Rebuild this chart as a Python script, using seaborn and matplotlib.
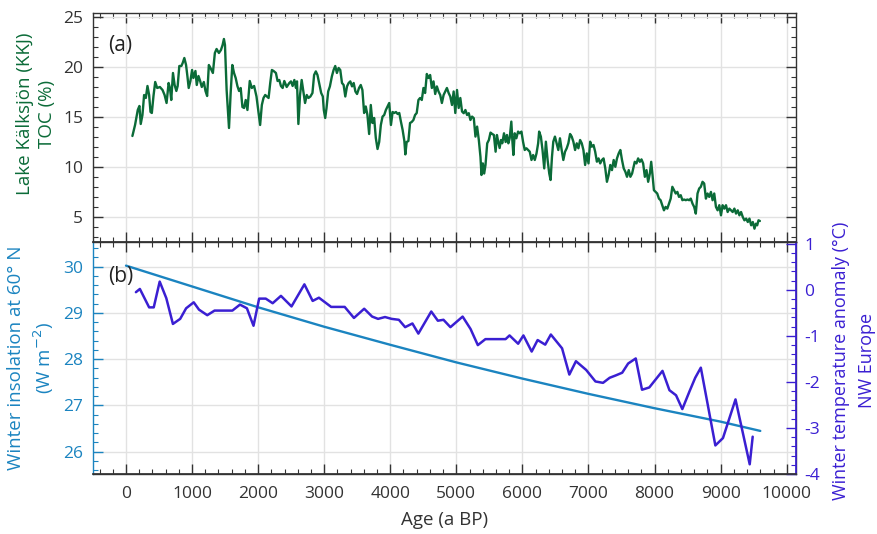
import numpy as np
import pandas as pd
import matplotlib
matplotlib.use("Agg")
import matplotlib.pyplot as plt
import seaborn as sns
from matplotlib.ticker import MultipleLocator

# ---------------- data ----------------
toc_age = [97, 137, 178, 203, 223, 249, 274, 300, 325, 350, 371, 391, 416, 442, 472, 513, 553, 584, 614, 645,
           665, 685, 711, 736, 762, 782, 807, 838, 858, 883, 909, 929, 949, 975, 1000, 1020, 1051, 1071, 1097, 1122,
           1147, 1178, 1203, 1228, 1254, 1279, 1315, 1345, 1371, 1406, 1437, 1462, 1482, 1498, 1523, 1559, 1584, 1609,
           1635, 1660, 1686, 1711, 1736, 1762, 1787, 1812, 1838, 1873, 1904, 1939, 1975, 2005, 2030, 2056, 2081, 2107,
           2132, 2158, 2183, 2208, 2234, 2269, 2294, 2320, 2345, 2371, 2396, 2432, 2472,
           2497, 2522, 2548, 2573, 2588, 2609, 2634, 2659, 2685, 2710, 2736, 2761, 2791, 2822, 2847, 2873, 2898, 2923,
           2954, 2979, 2994, 3015, 3035, 3060, 3086, 3116, 3142, 3167, 3192, 3218, 3243, 3269, 3294, 3319, 3345, 3370,
           3395, 3421, 3446, 3472, 3497, 3527, 3553, 3578, 3604, 3629, 3654, 3680, 3705, 3730, 3756, 3781, 3807, 3832,
           3857, 3883, 3908, 3933, 3959, 3984, 4010, 4035, 4060, 4086, 4111, 4136, 4162, 4187, 4213, 4228, 4248, 4274,
           4299, 4324, 4350, 4375, 4400, 4426, 4451, 4477, 4502, 4527, 4553, 4578, 4603, 4629, 4654, 4680, 4705, 4730,
           4756, 4781, 4807, 4832, 4857, 4883, 4908, 4934, 4959, 4984, 5010, 5035, 5060,
           5086, 5111, 5137, 5162, 5188, 5213, 5238, 5264, 5289, 5314, 5340, 5365, 5380, 5401, 5421, 5441, 5467, 5492,
           5517, 5543, 5568, 5594, 5614, 5634, 5655, 5675, 5695, 5721, 5746, 5766, 5787, 5807, 5832, 5847, 5863, 5883,
           5908, 5934, 5959, 5985, 6010, 6035, 6061, 6086, 6111, 6137, 6162, 6187, 6213, 6238, 6253, 6279, 6304, 6330,
           6355, 6381, 6406, 6426, 6447, 6467, 6492, 6518, 6543, 6568, 6594, 6619, 6645, 6670, 6695, 6721, 6746, 6771,
           6797, 6822, 6847, 6873, 6898, 6923, 6949, 6974, 7000, 7025, 7050, 7076, 7101, 7127, 7152, 7177, 7203, 7228,
           7254, 7279, 7304, 7330, 7355, 7381, 7406, 7431, 7457, 7482, 7507, 7533, 7558, 7583, 7609, 7634, 7660,
           7700, 7726, 7751, 7777, 7802, 7827, 7853, 7878, 7903, 7929, 7949, 7969, 7990, 8015, 8040, 8066, 8091, 8117,
           8142, 8167, 8193, 8218, 8244, 8269, 8294, 8320, 8345, 8370, 8396, 8421, 8447, 8472, 8497, 8523, 8548, 8574,
           8599, 8624, 8650, 8675, 8700, 8726, 8751, 8777, 8802, 8827, 8853, 8878, 8903, 8929, 8954, 8980, 9005, 9030,
           9056, 9081, 9106, 9132, 9157, 9182, 9208, 9233, 9259, 9284, 9309, 9335, 9360, 9386, 9411, 9436, 9462, 9487,
           9512, 9533, 9553, 9573, 9594]
toc_val = [13.1, 14.2, 15.7, 16.1, 14.3, 15.2, 17.2, 16.9, 18.1, 17.2, 15.5, 15.4, 17.1, 18.5, 17.9, 18.0, 17.7, 17.2, 16.4, 18.4,
           17.9, 16.7, 19.4, 18.2, 17.6, 18.1, 20.1, 20.1, 20.4, 20.9, 20.2, 19.1, 17.9, 18.6, 19.7, 18.9, 19.6, 18.2, 19.1, 18.6,
           18.0, 18.5, 17.6, 17.1, 20.2, 19.9, 19.4, 21.4, 21.8, 21.4, 21.7, 22.2, 22.8, 22.2, 17.7, 13.9, 17.4, 20.2,
           19.4, 18.9, 18.1, 17.6, 17.9, 16.0, 15.9, 16.7, 15.7, 18.6, 17.9, 18.1, 17.05, 15.5, 14.2, 16.2, 16.9, 17.2,
           17.05, 16.9, 18.4, 19.7, 19.6, 19.4, 18.6, 18.7, 18.1, 17.9, 18.6, 18.0, 18.4,
           18.56, 18.1, 18.7, 17.9, 18.56, 14.3, 17.2, 18.7, 17.55, 16.4, 17.2, 16.9, 17.05, 17.4, 19.2, 19.56, 19.2, 18.4,
           17.4, 17.05, 15.7, 14.9, 15.9, 17.55, 18.06, 19.06, 19.7, 20.1, 19.4, 19.9, 19.7, 18.4, 18.2, 17.05, 18.06, 18.4,
           18.56, 18.06, 18.4, 17.55, 17.3, 17.9, 18.2, 17.7, 15.4, 16.05, 15.2, 13.3, 16.2, 14.4, 14.9, 12.9, 11.8, 12.5,
           14.2, 15.04, 15.2, 15.7, 16.05, 16.4, 14.2, 15.5, 15.4, 15.5, 15.3, 15.4, 14.5, 13.7, 12.6, 11.26, 12.5, 12.6,
           14.4, 14.5, 14.7, 15.2, 15.4, 16.7, 16.9, 16.7, 17.9, 17.4, 19.3, 18.9, 19.2, 17.9, 18.56, 17.3, 18.06, 17.55,
           17.2, 16.4, 17.2, 17.55, 17.9, 17.4, 17.05, 16.2, 17.55, 15.4, 17.7, 15.9, 16.9,
           15.55, 15.38, 15.7, 15.2, 15.38, 14.7, 15.04, 14.88, 13.04, 14.04, 12.7, 11.0, 9.2, 10.36, 9.35, 10.2, 12.37, 12.7,
           13.44, 13.3, 13.2, 11.53, 13.2, 12.5, 11.9, 12.7, 12.37, 13.37, 12.5, 13.2, 12.37, 12.87, 14.54, 12.7, 11.2, 13.37,
           12.87, 13.54, 13.37, 13.54, 12.5, 11.7, 11.87, 11.7, 11.53, 10.7, 11.2, 10.7, 11.36, 12.37, 13.54, 13.04, 11.7, 9.86,
           12.53, 10.7, 9.35, 8.7, 11.0, 12.53, 13.04, 12.37, 11.7, 12.87, 11.7, 10.7, 11.53, 11.87, 12.37, 13.3, 13.04, 12.53,
           11.7, 12.37, 11.87, 12.7, 12.37, 11.7, 10.2, 11.36, 10.36, 12.53, 12.03, 12.2, 11.53, 10.53, 10.86, 10.36, 10.7, 10.86,
           9.86, 8.52, 9.19, 10.2, 9.69, 10.7, 10.02, 10.86, 11.36, 11.7, 10.7, 9.86, 9.52, 9.02, 9.69, 9.02, 9.35,
           10.52, 10.36, 10.86, 10.52, 10.76, 10.36, 9.02, 9.69, 8.52, 9.35, 10.52, 9.19, 7.68, 7.51, 7.35, 6.84, 6.68, 6.18,
           5.67, 6.01, 5.84, 6.34, 6.84, 8.02, 7.68, 7.35, 7.51, 7.01, 7.18, 6.68, 6.75, 6.68, 6.75, 6.68, 6.84, 6.34,
           6.01, 5.34, 7.35, 7.85, 8.02, 8.52, 8.35, 6.84, 7.35, 7.01, 7.51, 6.68, 7.35, 6.01, 5.67, 6.18, 5.17, 6.18,
           5.84, 6.18, 5.5, 5.84, 5.67, 5.5, 5.84, 5.34, 5.67, 5.17, 5.5, 5.0, 4.67, 4.84, 4.5, 4.84, 4.17, 4.5,
           3.83, 4.33, 4.17, 4.67, 4.6]

ins_age = [0, 1000, 2000, 3000, 4000, 5000, 6000, 7000, 8000, 9000, 9600]
ins_val = [30.02, 29.57, 29.12, 28.70, 28.31, 27.93, 27.58, 27.25, 26.94, 26.65, 26.45]

temp_age = [150, 210, 350, 420, 510, 610, 710, 820, 910, 1025, 1105, 1230, 1340, 1610, 1725, 1830, 1930, 2015,
            2115, 2220, 2345, 2505, 2700, 2825, 2920, 3105, 3310, 3450, 3605, 3725, 3815, 3920, 4020, 4130, 4225,
            4335, 4425, 4620, 4720, 4805, 4910, 5095, 5215, 5325, 5440, 5745, 5805, 5935, 6015, 6140, 6230, 6345,
            6430, 6600, 6710, 6810, 6965, 7105, 7220, 7320, 7410, 7510, 7600, 7715, 7810, 7920, 8120, 8225, 8325,
            8420, 8530, 8615, 8700, 8920, 9035, 9225, 9440, 9485]
temp_val = [-0.05, 0.02, -0.38, -0.38, 0.18, -0.18, -0.74, -0.63, -0.40, -0.27, -0.43, -0.55, -0.45, -0.45, -0.32,
            -0.40, -0.78, -0.19, -0.19, -0.29, -0.13, -0.36, 0.12, -0.24, -0.17, -0.37, -0.37, -0.61, -0.41, -0.58,
            -0.63, -0.59, -0.63, -0.65, -0.81, -0.73, -0.95, -0.47, -0.67, -0.65, -0.81, -0.58, -0.85, -1.20, -1.07,
            -1.07, -0.99, -1.17, -0.99, -1.34, -1.09, -1.19, -0.97, -1.27, -1.84, -1.55, -1.74, -1.99, -2.02, -1.91,
            -1.86, -1.80, -1.60, -1.49, -2.17, -2.12, -1.76, -2.18, -2.29, -2.59, -2.20, -1.91, -1.69, -3.38, -3.22,
            -2.38, -3.79, -3.19]

x_ticks = list(range(0, 10001, 1000))
toc_ticks = [5, 10, 15, 20, 25]
ins_ticks = [26, 27, 28, 29, 30]
temp_ticks = [-4, -3, -2, -1, 0, 1]

# ---------------- style ----------------
GREEN = "#0b6b38"
BLUE = "#1b84c0"
PURPLE = "#3a1fd2"
DARK = "#333333"
GRID = "#e2e2e2"

sns.set_theme(style="white")
plt.rcParams['font.family'] = ['Open Sans', 'DejaVu Sans']
plt.rcParams['axes.unicode_minus'] = False

fig = plt.figure(figsize=(8.77, 5.34), dpi=100)
ax1 = fig.add_axes([0.106, 0.5468, 0.8016, 0.4289])
ax2 = fig.add_axes([0.106, 0.1124, 0.8016, 0.4344], sharex=ax1)
ax3 = ax2.twinx()

df_toc = pd.DataFrame({"age": toc_age, "toc": toc_val})
df_ins = pd.DataFrame({"age": ins_age, "ins": ins_val})
df_tmp = pd.DataFrame({"age": temp_age, "tmp": temp_val})

sns.lineplot(data=df_toc, x="age", y="toc", ax=ax1, color=GREEN, lw=1.7, estimator=None, sort=False)
sns.lineplot(data=df_ins, x="age", y="ins", ax=ax2, color=BLUE, lw=1.7, estimator=None, sort=False)
sns.lineplot(data=df_tmp, x="age", y="tmp", ax=ax3, color=PURPLE, lw=1.8, estimator=None, sort=False)

ax1.set_xlim(-500, 10140)
ax1.set_ylim(2.5, 25.4)
ax2.set_ylim(25.52, 30.53)
ax3.set_ylim(-4, 1.04)

for ax in (ax1, ax2):
    ax.set_xticks(x_ticks)
    ax.xaxis.set_minor_locator(MultipleLocator(200))
    ax.grid(True, which="major", color=GRID, lw=1.0)
    ax.set_axisbelow(True)

ax1.set_yticks(toc_ticks)
ax1.yaxis.set_minor_locator(MultipleLocator(1))
ax2.set_yticks(ins_ticks)
ax2.yaxis.set_minor_locator(MultipleLocator(0.2))
ax3.set_yticks(temp_ticks)
ax3.yaxis.set_minor_locator(MultipleLocator(0.2))
ax3.grid(False)

# ticks
ax1.tick_params(axis="both", which="both", direction="in", top=True, right=True, bottom=True, left=True,
                labelbottom=False, colors=DARK, labelsize=12.5)
ax1.tick_params(axis="y", which="major", pad=7)
ax1.tick_params(which="major", length=7, width=1)
ax1.tick_params(which="minor", length=3.5, width=0.8)

ax2.tick_params(axis="x", which="both", direction="in", top=True, bottom=True, colors=DARK, labelsize=12.5)
ax2.tick_params(axis="x", which="major", pad=9)
ax2.tick_params(axis="y", which="both", direction="in", left=True, right=False, colors=BLUE, labelsize=12.5)
ax2.tick_params(axis="y", which="major", pad=7)
ax2.tick_params(which="major", length=7, width=1)
ax2.tick_params(which="minor", length=3.5, width=0.8)

ax3.tick_params(axis="y", which="both", direction="in", right=True, colors=PURPLE, labelsize=12.5)
ax3.tick_params(axis="y", which="major", pad=6)
ax3.tick_params(which="major", length=7, width=1)
ax3.tick_params(which="minor", length=3.5, width=0.8)

for sp in ax1.spines.values():
    sp.set_color(DARK); sp.set_linewidth(1.0)
for sp in ax2.spines.values():
    sp.set_color(DARK); sp.set_linewidth(1.0)
ax2.spines["left"].set_color(BLUE)
ax3.spines["left"].set_visible(False)
ax3.spines["top"].set_color(DARK)
ax3.spines["bottom"].set_color(DARK)
ax3.spines["right"].set_color(PURPLE)

LFS = 13.5
ax1.set_xlabel("")
ax2.set_xlabel("Age (a BP)", fontsize=LFS, color=DARK, labelpad=6)
ax1.set_ylabel("Lake Kälksjön (KKJ)\nTOC (%)", fontsize=LFS, color=GREEN, linespacing=1.35)
ax2.set_ylabel("Winter insolation at 60° N\n(W m$^{-2}$)", fontsize=LFS, color=BLUE, linespacing=1.35)
ax3.set_ylabel("Winter temperature anomaly (°C)\nNW Europe", fontsize=13, color=PURPLE,
               rotation=90, linespacing=1.55)
ax1.yaxis.set_label_coords(-0.052, 0.56)
ax2.yaxis.set_label_coords(-0.052, 0.5)
ax3.yaxis.set_label_coords(1.051, 0.49)

ax1.text(0.021, 0.86, "(a)", transform=ax1.transAxes, fontsize=15, color="#222222", va="center")
ax2.text(0.022, 0.853, "(b)", transform=ax2.transAxes, fontsize=15, color="#222222", va="center")

fig.savefig("out.png", dpi=100)
